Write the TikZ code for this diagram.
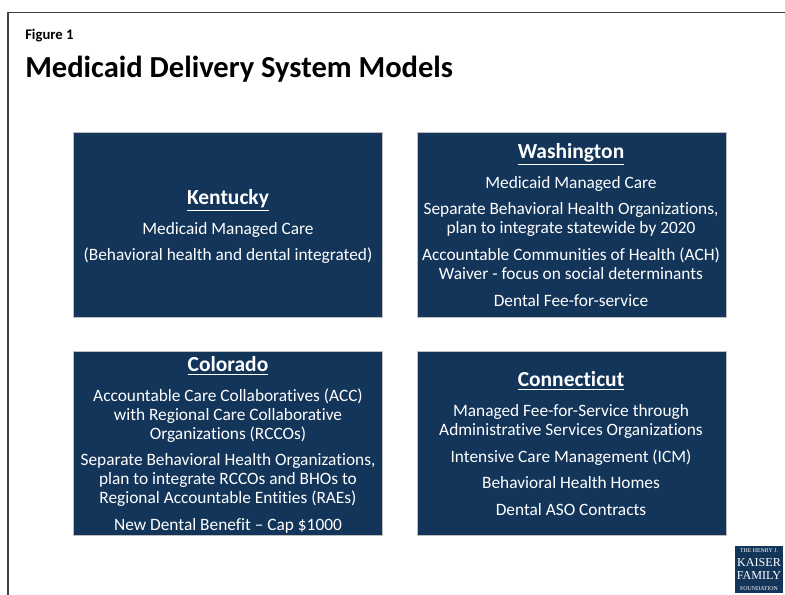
\documentclass[tikz,border=0pt]{standalone}
\usepackage{fontspec}
\setmainfont[RawFeature=-liga]{Carlito}
\newfontfamily\logofont{Liberation Serif}
\definecolor{navy}{HTML}{14355A}
\definecolor{frameline}{HTML}{404040}
\newlength{\unit}\setlength{\unit}{0.75pt}
\tikzset{
 panel/.style={fill=navy,draw=black!25,line width=0.4pt,minimum width=309\unit,minimum height=184.5\unit,anchor=north west,inner sep=0pt},
 txt/.style={text=white,font=\fontsize{13}{15}\selectfont,anchor=base,inner sep=0pt,yshift=-4.6pt},
 head/.style={text=white,font=\fontsize{16.1}{19}\selectfont\bfseries,anchor=base,inner sep=0pt,yshift=-5.6pt},
 logosmall/.style={text=white,inner sep=0pt,font=\logofont\fontsize{4.4}{5}\selectfont},
 logobig/.style={text=white,inner sep=0pt,font=\logofont\fontsize{9.1}{10}\selectfont},
}
\begin{document}
\begin{tikzpicture}[x=0.75pt,y=-0.75pt]
\useasboundingbox (0,0) rectangle (785,595);
\fill[white] (0,0) rectangle (785,595);
\coordinate (f1) at (8,595); \coordinate (f2) at (8,12.5); \coordinate (f3) at (785,12.5);
\draw[frameline,line width=1.1pt] (f1) -- (f2) -- (f3);
\node[anchor=west,inner sep=0pt,font=\fontsize{11}{13}\selectfont\bfseries] (fig) at (25,36) {Figure 1};
\node[anchor=west,inner sep=0pt,font=\fontsize{22.9}{27}\selectfont\bfseries] (title) at (25,69) {Medicaid Delivery System Models};
\node[panel] (k) at (73,132.5) {};
\node[panel] (w) at (416.5,132.5) {};
\node[panel] (c) at (73,350.5) {};
\node[panel] (n) at (416.5,350.5) {};
\newcommand{\hd}[3]{\node[head] at (#1,#2) {\underline{#3}};}
\newcommand{\tx}[3]{\node[txt] at (#1,#2) {#3};}
\hd{228}{197.5}{Kentucky}
\tx{228}{228.5}{Medicaid Managed Care}
\tx{228}{254.5}{(Behavioral health and dental integrated)}
\hd{571}{151.5}{Washington}
\tx{571}{182.5}{Medicaid Managed Care}
\tx{571}{208.5}{Separate Behavioral Health Organizations,}
\tx{571}{227.5}{plan to integrate statewide by 2020}
\tx{571}{254.5}{Accountable Communities of Health (ACH)}
\tx{571}{273.5}{Waiver - focus on social determinants}
\tx{571}{300.5}{Dental Fee-for-service}
\hd{228}{364.5}{Colorado}
\tx{228}{395.5}{Accountable Care Collaboratives (ACC)}
\tx{228}{414.5}{with Regional Care Collaborative}
\tx{228}{433.5}{Organizations (RCCOs)}
\tx{228}{459.5}{Separate Behavioral Health Organizations,}
\tx{228}{478.5}{plan to integrate RCCOs and BHOs to}
\tx{228}{497.5}{Regional Accountable Entities (RAEs)}
\tx{228}{524.5}{New Dental Benefit – Cap \$1000}
\hd{571}{379.5}{Connecticut}
\tx{571}{410.5}{Managed Fee-for-Service through}
\tx{571}{429.5}{Administrative Services Organizations}
\tx{571}{456.5}{Intensive Care Management (ICM)}
\tx{571}{482.5}{Behavioral Health Homes}
\tx{571}{509.5}{Dental ASO Contracts}
\fill[navy] (735,546) rectangle (783,593);
\node[logosmall] (l1) at (759,551) {THE HENRY J.};
\node[logobig] (l2) at (759,563) {KAISER};
\node[logobig] (l3) at (759,575.5) {FAMILY};
\node[logosmall] (l4) at (759,588.5) {FOUNDATION};
\end{tikzpicture}
\end{document}
